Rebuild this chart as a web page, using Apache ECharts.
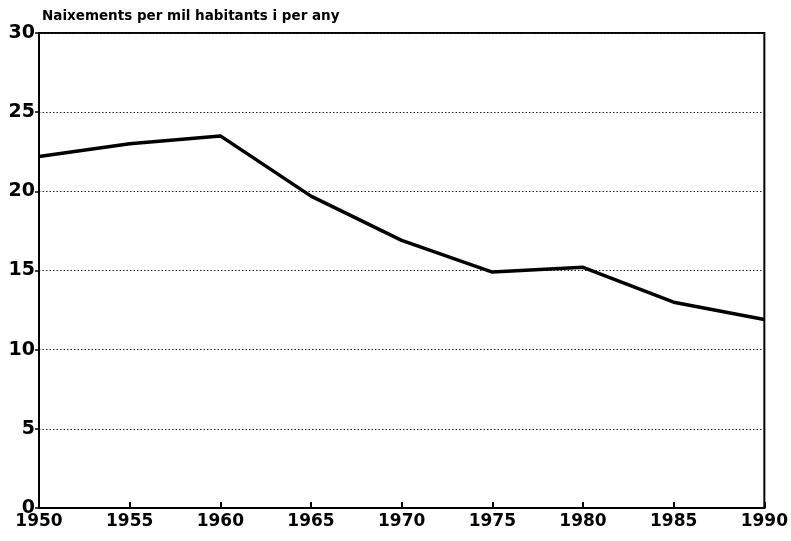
<!DOCTYPE html>
<html>
<head>
<meta charset="utf-8">
<script src="https://cdn.jsdelivr.net/npm/echarts@6/dist/echarts.min.js"></script>
<style>
html,body{margin:0;padding:0;background:#fff;}
#c{width:791px;height:541px;}
</style>
</head>
<body>
<div id="c"></div>
<script>
var years = [1950, 1955, 1960, 1965, 1970, 1975, 1980, 1985, 1990];
var births = [22.2, 23.0, 23.5, 19.7, 16.9, 14.9, 15.2, 13.0, 11.9];
var title = 'Naixements per mil habitants i per any';

var chart = echarts.init(document.getElementById('c'));
chart.setOption({
  animation: false,
  backgroundColor: '#fff',
  title: {
    text: title, left: 37, top: 4,
    textStyle: {fontFamily: 'DejaVu Sans', fontWeight: 'bold', fontSize: 13.5, color: '#000'}
  },
  grid: {left: 39, right: 23, top: 33, bottom: 33, show: true, borderColor: '#000', borderWidth: 2, backgroundColor: 'transparent'},
  xAxis: {
    type: 'value', min: 1950, max: 1990, interval: 5,
    axisLine: {show: true, lineStyle: {color: '#000', width: 2}},
    axisTick: {show: true, inside: true, length: 6, lineStyle: {color: '#000', width: 2}},
    splitLine: {show: false},
    axisLabel: {color: '#000', fontFamily: 'DejaVu Sans', fontWeight: 'bold', fontSize: 17, margin: 5, formatter: function(v){return String(v);}}
  },
  yAxis: {
    type: 'value', min: 0, max: 30, interval: 5,
    axisLine: {show: true, lineStyle: {color: '#000', width: 2}},
    axisTick: {show: true, length: 4, lineStyle: {color: '#000', width: 1.5}},
    splitLine: {show: true, lineStyle: {color: '#222', type: [1.5, 2], width: 1}},
    axisLabel: {color: '#000', fontFamily: 'DejaVu Sans', fontWeight: 'bold', fontSize: 19, margin: 4}
  },
  series: [{
    type: 'line',
    data: years.map(function(y, i){ return [y, births[i]]; }),
    showSymbol: false,
    lineStyle: {color: '#000', width: 3.5},
    z: 5
  }]
});
</script>
</body>
</html>
